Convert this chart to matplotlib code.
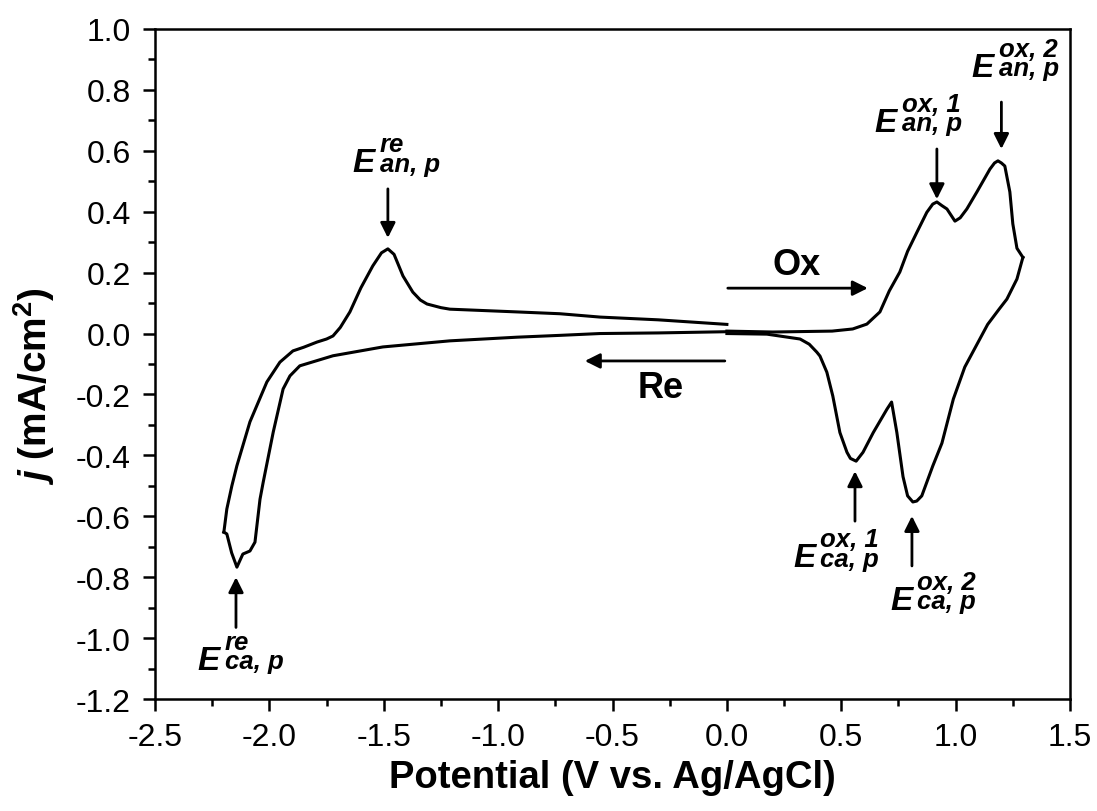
import matplotlib
matplotlib.use("Agg")
import numpy as np
import matplotlib.pyplot as plt

# forward (oxidation) sweep from 0 V to the positive vertex and back
ox_fwd_e = [0.0, 0.2, 0.46, 0.55, 0.612, 0.669, 0.71, 0.756, 0.79, 0.831, 0.874,
            0.9, 0.918, 0.94, 0.962, 0.997, 1.02, 1.049, 1.093, 1.15, 1.17, 1.185,
            1.2, 1.215, 1.237, 1.25, 1.268, 1.294]
ox_fwd_j = [0.008, 0.005, 0.008, 0.015, 0.031, 0.071, 0.14, 0.202, 0.27, 0.333, 0.398,
            0.425, 0.432, 0.42, 0.409, 0.369, 0.38, 0.409, 0.465, 0.54, 0.56, 0.567,
            0.56, 0.55, 0.465, 0.36, 0.28, 0.25]
ox_rev_e = [1.294, 1.268, 1.224, 1.19, 1.14, 1.09, 1.04, 0.99, 0.94, 0.90, 0.852,
            0.83, 0.813, 0.79, 0.77, 0.743, 0.72, 0.70, 0.64, 0.595, 0.565, 0.54,
            0.525, 0.494, 0.463, 0.437, 0.407, 0.393, 0.36, 0.32, 0.175, 0.0]
ox_rev_j = [0.25, 0.179, 0.113, 0.08, 0.03, -0.04, -0.11, -0.215, -0.36, -0.435, -0.533,
            -0.55, -0.553, -0.533, -0.47, -0.325, -0.225, -0.248, -0.325, -0.39, -0.419, -0.41,
            -0.39, -0.325, -0.205, -0.127, -0.074, -0.061, -0.035, -0.018, -0.002, 0.0]

# reduction sweep from 0 V to the negative vertex and back
re_fwd_e = [0.0, -0.3, -0.555, -0.73, -0.918, -1.211, -1.504, -1.722, -1.867, -1.91,
            -1.94, -1.983, -2.027, -2.041, -2.063, -2.085, -2.116, -2.142, -2.165,
            -2.186, -2.199]
re_fwd_j = [0.006, 0.002, 0.0, -0.006, -0.012, -0.024, -0.044, -0.073, -0.106, -0.139,
            -0.182, -0.323, -0.488, -0.544, -0.685, -0.714, -0.724, -0.767, -0.72,
            -0.658, -0.652]
re_rev_e = [-2.199, -2.186, -2.164, -2.142, -2.085, -2.011, -1.954, -1.897, -1.85,
            -1.792, -1.75, -1.722, -1.69, -1.648, -1.6, -1.548, -1.51, -1.482, -1.455,
            -1.416, -1.373, -1.34, -1.311, -1.25, -1.211, -0.918, -0.73, -0.554, -0.3, 0.0]
re_rev_j = [-0.652, -0.576, -0.5, -0.434, -0.29, -0.159, -0.094, -0.057, -0.045,
            -0.028, -0.018, -0.008, 0.02, 0.071, 0.15, 0.222, 0.265, 0.278, 0.26,
            0.189, 0.136, 0.11, 0.097, 0.085, 0.08, 0.071, 0.065, 0.054, 0.045, 0.03]

# peak markers: superscript, subscript, arrow x, arrow tail/tip, label anchor
peak_sup = ["re", "re", "ox, 1", "ox, 2", "ox, 1", "ox, 2"]
peak_sub = ["an, p", "ca, p", "an, p", "an, p", "ca, p", "ca, p"]
peak_x = [-1.482, -2.146, 0.918, 1.20, 0.56, 0.809]
peak_tail_y = [0.475, -0.965, 0.606, 0.760, -0.616, -0.763]
peak_tip_y = [0.314, -0.80, 0.441, 0.606, -0.452, -0.599]
label_x = [-1.635, -2.313, 0.647, 1.071, 0.289, 0.713]
label_y = [0.533, -1.102, 0.665, 0.846, -0.764, -0.905]

# sweep direction arrows
sweep_names = ["Ox", "Re"]
sweep_start = [0.004, -0.009]
sweep_end = [0.616, -0.621]
sweep_y = [0.149, -0.09]
sweep_text_x = [0.306, -0.289]
sweep_text_y = [0.228, -0.176]

x_major = [-2.5, -2.0, -1.5, -1.0, -0.5, 0.0, 0.5, 1.0, 1.5]
y_major = [-1.2, -1.0, -0.8, -0.6, -0.4, -0.2, 0.0, 0.2, 0.4, 0.6, 0.8, 1.0]

plt.rcParams["font.family"] = ["Liberation Sans", "DejaVu Sans"]
plt.rcParams["axes.unicode_minus"] = False
plt.rcParams["mathtext.fontset"] = "custom"
plt.rcParams["mathtext.it"] = "Liberation Sans:italic:bold"
plt.rcParams["mathtext.rm"] = "Liberation Sans:bold"
plt.rcParams["mathtext.bf"] = "Liberation Sans:bold"

fig = plt.figure(figsize=(10.97, 8.12), dpi=100)
ax = fig.add_axes([0.1413, 0.1379, 0.8341, 0.8252])

lw = 2.2
ax.plot(ox_fwd_e, ox_fwd_j, color="black", lw=lw)
ax.plot(ox_rev_e, ox_rev_j, color="black", lw=lw)
ax.plot(re_fwd_e, re_fwd_j, color="black", lw=lw)
ax.plot(re_rev_e, re_rev_j, color="black", lw=lw)

arrow_style = dict(arrowstyle="-|>,head_length=0.9,head_width=0.45",
                   color="black", lw=2.0, shrinkA=0, shrinkB=0)
lab_font = dict(fontweight="bold", fontstyle="italic", va="baseline", ha="left")
for sup, sub, px, ty, hy, lx, ly in zip(peak_sup, peak_sub, peak_x, peak_tail_y,
                                        peak_tip_y, label_x, label_y):
    ax.annotate("", xy=(px, hy), xytext=(px, ty), arrowprops=arrow_style)
    ax.text(lx, ly, "E", fontsize=24, **lab_font)
    # super- and subscript stacked in one two-line text (baseline = last line)
    ax.annotate(sup + "\n" + sub, xy=(lx, ly), xytext=(19.5, 0.5),
                textcoords="offset points", fontsize=18.5, linespacing=0.76,
                multialignment="left", **lab_font)

for name, x0, x1, y, tx, ty in zip(sweep_names, sweep_start, sweep_end, sweep_y,
                                   sweep_text_x, sweep_text_y):
    ax.annotate("", xy=(x1, y), xytext=(x0, y), arrowprops=arrow_style)
    ax.text(tx, ty, name, fontsize=26, fontweight="bold", ha="center", va="center")

ax.set_xlim(-2.5, 1.5)
ax.set_ylim(-1.2, 1.0)
ax.set_xticks(x_major)
ax.set_xticks(np.arange(-2.5, 1.51, 0.25), minor=True)
ax.set_yticks(y_major)
ax.set_yticks(np.arange(-1.2, 1.01, 0.1), minor=True)
ax.set_xticklabels([f"{v:.1f}" for v in x_major])
ax.set_yticklabels([f"{v:.1f}" for v in y_major])

for s in ax.spines.values():
    s.set_linewidth(1.8)
ax.tick_params(which="major", length=8.5, width=1.8, labelsize=23,
               direction="out")
ax.tick_params(axis="x", which="major", pad=8)
ax.tick_params(axis="y", which="major", pad=9)
ax.tick_params(which="minor", length=5, width=1.8, direction="out")

ax.set_xlabel("Potential (V vs. Ag/AgCl)", fontsize=27.5, fontweight="bold")
ax.set_ylabel(r"$\mathit{j}$ (mA/cm$^{2}$)", fontsize=28, fontweight="bold")
ax.xaxis.set_label_coords(0.5, -0.09)
ax.yaxis.set_label_coords(-0.107, 0.469)

fig.savefig("out.png", dpi=100)
